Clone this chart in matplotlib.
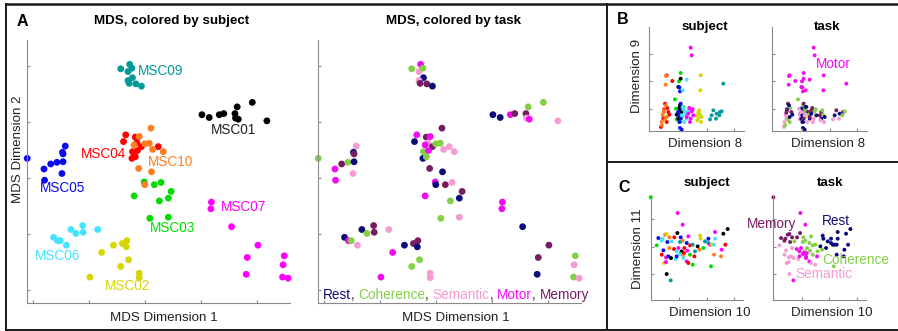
import matplotlib
matplotlib.use('Agg')
import matplotlib.pyplot as plt
from matplotlib.lines import Line2D

plt.rcParams['font.family'] = ['Liberation Sans', 'DejaVu Sans']
plt.rcParams['font.size'] = 9.6

subj_colors = {'MSC01': '#000000', 'MSC02': '#d6d600', 'MSC03': '#00dc00',
               'MSC04': '#ff0000', 'MSC05': '#0a0aee', 'MSC06': '#45e3ff',
               'MSC07': '#ff00ff', 'MSC09': '#009a9a', 'MSC10': '#ff7d1e'}
task_names = ['Rest', 'Coherence', 'Semantic', 'Motor', 'Memory']
task_colors = {'Rest': '#0c0c78', 'Coherence': '#84cf45', 'Semantic': '#f59bd2',
               'Motor': '#f20cf2', 'Memory': '#761c62'}

### Panel A - MDS dims 1 and 2
a_x = [1.56, 1.72, 1.69, 1.76, 1.77, 1.69, 1.71, 1.83, 1.93,              # MSC09
       3.01, 3.14, 3.32, 3.40, 3.64, 3.60, 3.61, 3.66, 3.91, 4.17,        # MSC01
       -0.11, 0.19, 0.20, 0.31, 0.42, 0.52, 0.53, 0.57, 0.53, 0.51,       # MSC05
       0.36, 0.43, 0.48, 0.59, 0.67, 0.76, 0.88, 0.89, 1.15,              # MSC06
       1.43, 1.59, 1.67, 1.66, 1.22, 1.70, 1.56, 1.01, 1.89, 1.89,        # MSC02
       3.18, 3.17, 3.54, 4.01, 3.82, 3.80, 4.48, 4.46, 4.45, 4.55,        # MSC07
       1.98, 2.16, 2.28, 2.46, 2.41, 2.25, 1.80, 2.08, 2.41,              # MSC03
       1.65, 1.82, 1.61, 1.85, 1.93, 2.23, 1.77, 1.86, 1.76, 1.82,        # MSC04
       2.10, 1.89, 1.80, 1.99, 2.07, 2.13, 2.32, 1.88, 2.11, 1.99]        # MSC10
a_y = [3.95, 4.03, 3.90, 3.96, 3.79, 3.74, 3.69, 3.68, 3.64,
       3.13, 3.08, 3.13, 3.15, 3.27, 3.15, 3.07, 3.05, 3.35, 3.02,
       2.35, 2.16, 1.96, 2.25, 2.28, 2.46, 2.43, 2.57, 2.29, 2.08,
       0.94, 0.88, 0.88, 0.80, 1.08, 1.01, 1.15, 1.03, 1.08,
       0.80, 0.83, 0.88, 0.77, 0.67, 0.54, 0.42, 0.23, 0.30, 0.22,
       1.57, 1.45, 1.13, 0.80, 0.58, 0.28, 0.61, 0.45, 0.23, 0.21,
       1.93, 1.88, 1.92, 1.76, 1.64, 1.59, 1.68, 1.28, 1.30,
       2.77, 2.73, 2.65, 2.63, 2.56, 2.56, 2.47, 2.49, 2.35, 2.38,
       2.89, 2.74, 2.59, 2.61, 2.62, 2.51, 2.47, 2.17, 2.11, 1.88]
a_subj = (['MSC09'] * 9 + ['MSC01'] * 10 + ['MSC05'] * 10 + ['MSC06'] * 9 + ['MSC02'] * 10
          + ['MSC07'] * 10 + ['MSC03'] * 9 + ['MSC04'] * 10 + ['MSC10'] * 10)
a_task = ['Coherence', 'Motor', 'Semantic', 'Coherence', 'Rest', 'Semantic', 'Memory', 'Memory', 'Rest',
          'Rest', 'Rest', 'Motor', 'Memory', 'Coherence', 'Memory', 'Semantic', 'Motor', 'Coherence', 'Semantic',
          'Coherence', 'Motor', 'Motor', 'Memory', 'Coherence', 'Rest', 'Memory', 'Semantic', 'Rest', 'Semantic',
          'Rest', 'Motor', 'Coherence', 'Semantic', 'Rest', 'Coherence', 'Memory', 'Memory', 'Semantic',
          'Rest', 'Memory', 'Memory', 'Rest', 'Motor', 'Coherence', 'Coherence', 'Motor', 'Semantic', 'Semantic',
          'Motor', 'Motor', 'Rest', 'Memory', 'Memory', 'Rest', 'Coherence', 'Semantic', 'Coherence', 'Semantic',
          'Motor', 'Memory', 'Semantic', 'Memory', 'Rest', 'Coherence', 'Motor', 'Coherence', 'Semantic',
          'Motor', 'Memory', 'Rest', 'Semantic', 'Memory', 'Semantic', 'Coherence', 'Motor', 'Rest', 'Coherence',
          'Memory', 'Motor', 'Motor', 'Coherence', 'Coherence', 'Semantic', 'Semantic', 'Memory', 'Rest', 'Rest']

# subject label positions (data units)
a_lab = ['MSC09', 'MSC01', 'MSC04', 'MSC10', 'MSC05', 'MSC07', 'MSC03', 'MSC06', 'MSC02']
a_lab_x = [1.875, 3.17, 1.65, 2.04, 0.12, 3.35, 2.08, 0.03, 1.28]
a_lab_y = [3.91, 2.86, 2.43, 2.29, 1.82, 1.48, 1.10, 0.61, 0.07]

### Panel B - dims 8 and 9
b_x = [-37, -20, -42, -35, -32, -29, -47, -37, -54, -45,     # MSC04
       -39, -40, -45, -49, -42, -52, -37, -47, -51, -39,     # MSC10
       5, 0, -12, -5, -7, 3, 1, 8, -9, 13,                   # MSC03
       5, -2, 3, 8, 1, 5, -2, 11, 3, -7,                     # MSC01
       3, 1, 5, 1, 1, 3, 8, -2, 5, 9,                        # MSC05
       23, 11, 13, 18, 23, 8, 28, 15, 21, 11,                # MSC06
       65, 64, 58, 63, 58, 66, 53, 61, 68, 55,               # MSC02
       133, 103, 93, 113, 123, 111, 121, 98, 128,            # MSC09
       35, 38, 31, 38, 43, 33, 23, 41, 28, 35]               # MSC07
b_y = [100, 83, 15, 2, -10, -18, -30, -40, -55, -2,
       98, 72, -5, -20, -32, -40, -25, -12, -50, 10,
       107, 82, 28, -15, -32, -40, -8, -25, 0, 5,
       90, 65, -5, -10, 2, -20, -30, -2, 10, -18,
       52, 64, 15, -20, -40, -58, -63, -10, -30, 0,
       87, 55, -2, -10, -30, -20, -5, -40, -18, 5,
       100, 55, -10, -18, -30, -40, -20, -5, -25, -35,
       75, -5, -32, -15, -10, -30, -20, -20, -8,
       183, 160, 2, -8, -20, -40, -25, -2, -15, -30]
b_subj = (['MSC04'] * 10 + ['MSC10'] * 10 + ['MSC03'] * 10 + ['MSC01'] * 10 + ['MSC05'] * 10
          + ['MSC06'] * 10 + ['MSC02'] * 10 + ['MSC09'] * 9 + ['MSC07'] * 10)
b_task = ['Motor', 'Motor', 'Memory', 'Coherence', 'Memory', 'Rest', 'Semantic', 'Coherence', 'Semantic', 'Rest',
          'Motor', 'Motor', 'Memory', 'Semantic', 'Coherence', 'Semantic', 'Rest', 'Memory', 'Coherence', 'Rest',
          'Motor', 'Motor', 'Coherence', 'Memory', 'Semantic', 'Rest', 'Memory', 'Coherence', 'Semantic', 'Rest',
          'Motor', 'Motor', 'Memory', 'Coherence', 'Rest', 'Semantic', 'Rest', 'Memory', 'Coherence', 'Semantic',
          'Motor', 'Motor', 'Memory', 'Rest', 'Rest', 'Rest', 'Rest', 'Semantic', 'Memory', 'Coherence',
          'Motor', 'Motor', 'Coherence', 'Memory', 'Rest', 'Semantic', 'Memory', 'Semantic', 'Coherence', 'Rest',
          'Motor', 'Motor', 'Memory', 'Coherence', 'Rest', 'Semantic', 'Memory', 'Coherence', 'Rest', 'Semantic',
          'Motor', 'Memory', 'Semantic', 'Rest', 'Memory', 'Semantic', 'Coherence', 'Rest', 'Coherence',
          'Motor', 'Motor', 'Memory', 'Coherence', 'Rest', 'Semantic', 'Memory', 'Coherence', 'Rest', 'Semantic']

### Panel C - dims 10 and 11
c_x = [-85, -4, 11, -5, 146, 133, 108, -42, -37, -62, -14, -49, -29, 5, 28, 63, 65, 88, 108, -67,
       -52, -35, -22, 3, 11, 23, 33, 41, 56, 88, 93, 98, 105, 73, 128, 139, -47, -29, -15, -2,
       -7, 8, 6, 15, 16, 25, -52, -39, -32, -24, -10, -7, 3, 13, 33, 46, 105, 126, -45, -39,
       13, 23, 28, 41, 96, -37, -25, 48, 61, 78]
c_y = [230, 183, 148, 123, 135, 121, 126, 118, 120, 108, 110, 106, 110, 110, 113, 115, 106, 106, 106, 86,
       100, 96, 98, 96, 100, 93, 86, 88, 83, 93, 88, 88, 88, 78, 73, 88, 71, 78, 75, 78,
       68, 68, 63, 63, 78, 70, 58, 50, 53, 48, 45, 53, 60, 53, 58, 53, 58, 53, 33, 36,
       48, 38, 33, 28, 23, 0, -19, 68, 73, 98]
c_subj = ['MSC03', 'MSC07', 'MSC07', 'MSC01', 'MSC01', 'MSC01', 'MSC07', 'MSC10', 'MSC02', 'MSC05',
          'MSC04', 'MSC06', 'MSC10', 'MSC05', 'MSC07', 'MSC02', 'MSC02', 'MSC05', 'MSC06', 'MSC03',
          'MSC06', 'MSC05', 'MSC06', 'MSC09', 'MSC10', 'MSC05', 'MSC04', 'MSC09', 'MSC01', 'MSC09',
          'MSC07', 'MSC02', 'MSC06', 'MSC03', 'MSC07', 'MSC04', 'MSC05', 'MSC10', 'MSC04', 'MSC07',
          'MSC06', 'MSC01', 'MSC01', 'MSC04', 'MSC04', 'MSC07', 'MSC04', 'MSC07', 'MSC05', 'MSC01',
          'MSC06', 'MSC05', 'MSC06', 'MSC10', 'MSC03', 'MSC04', 'MSC10', 'MSC10', 'MSC02', 'MSC07',
          'MSC06', 'MSC07', 'MSC04', 'MSC03', 'MSC03', 'MSC01', 'MSC09', 'MSC09', 'MSC10', 'MSC09']
c_task = ['Memory', 'Motor', 'Motor', 'Memory', 'Rest', 'Rest', 'Rest', 'Memory', 'Memory', 'Memory',
          'Memory', 'Memory', 'Memory', 'Coherence', 'Coherence', 'Rest', 'Rest', 'Rest', 'Rest', 'Semantic',
          'Memory', 'Memory', 'Coherence', 'Coherence', 'Coherence', 'Coherence', 'Coherence', 'Coherence', 'Rest', 'Rest',
          'Rest', 'Rest', 'Rest', 'Rest', 'Rest', 'Rest', 'Semantic', 'Semantic', 'Motor', 'Motor',
          'Motor', 'Coherence', 'Motor', 'Motor', 'Coherence', 'Coherence', 'Semantic', 'Semantic', 'Semantic', 'Semantic',
          'Semantic', 'Motor', 'Motor', 'Motor', 'Coherence', 'Motor', 'Rest', 'Rest', 'Semantic', 'Semantic',
          'Motor', 'Motor', 'Semantic', 'Semantic', 'Coherence', 'Semantic', 'Motor', 'Coherence', 'Coherence', 'Rest']

W, H = 898.0, 331.0
fig = plt.figure(figsize=(8.98, 3.31), dpi=100)


def add_ax(left, top, right, bottom):
    return fig.add_axes([left / W, 1 - bottom / H, (right - left) / W, (bottom - top) / H])


def style(ax, xlim, ylim, xt, yt):
    ax.set_xlim(xlim)
    ax.set_ylim(ylim)
    for s in ['top', 'right']:
        ax.spines[s].set_visible(False)
    for s in ['left', 'bottom']:
        ax.spines[s].set_color('#8a8a8a')
        ax.spines[s].set_linewidth(0.8)
    ax.set_xticks(xt)
    ax.set_yticks(yt)
    ax.tick_params(direction='in', length=2.5, width=0.8, color='#8a8a8a',
                   labelbottom=False, labelleft=False)
    ax.patch.set_alpha(0)


def ftext(x, y, s, **kw):
    kw.setdefault('color', '#222222')
    return fig.text(x / W, 1 - y / H, s, **kw)


# --- A
axA1 = add_ax(26.7, 40, 290, 303.3)
axA2 = add_ax(317.7, 40, 581, 303.3)
for ax in [axA1, axA2]:
    style(ax, (-0.119, 4.583), (-0.238, 4.464), [0, 1, 2, 3, 4], [0, 1, 2, 3, 4])
axA1.scatter(a_x, a_y, s=24, c=[subj_colors[s] for s in a_subj], linewidths=0, clip_on=False)
axA2.scatter(a_x, a_y, s=24, c=[task_colors[t] for t in a_task], linewidths=0, clip_on=False)
for lab, lx, ly in zip(a_lab, a_lab_x, a_lab_y):
    ha = 'right' if lab == 'MSC04' else 'left'
    col = '#222222' if lab == 'MSC01' else subj_colors[lab]
    axA1.text(lx, ly, lab, color=col, ha=ha, va='center', fontsize=9.8)

# colored task legend under panel A task
t = ftext(322.7, 295, task_names[0], color=task_colors[task_names[0]], va='center', ha='left', fontsize=9.8)
for name in task_names[1:]:
    t = axA2.annotate(',', xy=(1, 0), xycoords=t, va='bottom', ha='left', color='#333333', fontsize=9.8)
    t = axA2.annotate(name, xy=(1, 0), xycoords=t, xytext=(2.7, 0), textcoords='offset points',
                      va='bottom', ha='left', color=task_colors[name], fontsize=9.8)

ftext(172, 21, 'MDS, colored by subject', ha='center', va='center', weight='bold', color='k')
ftext(453.8, 21, 'MDS, colored by task', ha='center', va='center', weight='bold', color='k')
ftext(17, 22, 'A', ha='left', va='center', weight='bold', fontsize=11.5, color='k')
ftext(18.3, 149, 'MDS Dimension 2', rotation=90, ha='center', va='center')
ftext(164, 318, 'MDS Dimension 1', ha='center', va='center')
ftext(455.8, 318, 'MDS Dimension 1', ha='center', va='center')

# --- B
axB1 = add_ax(649, 27, 744, 131)
axB2 = add_ax(772, 27, 867, 131)
for ax in [axB1, axB2]:
    style(ax, (-90, 195), (-67, 245), [0, 82.5, 165], [0, 82.5, 165])
axB1.scatter(b_x, b_y, s=8, c=[subj_colors[s] for s in b_subj], linewidths=0, clip_on=False)
axB2.scatter(b_x, b_y, s=8, c=[task_colors[t] for t in b_task], linewidths=0, clip_on=False)
axB2.text(43, 135, 'Motor', color=task_colors['Motor'], ha='left', va='center', fontsize=9.8)
ftext(704.5, 27, 'subject', ha='center', va='center', weight='bold', color='k')
ftext(827.5, 27, 'task', ha='center', va='center', weight='bold', color='k')
ftext(617, 20, 'B', ha='left', va='center', weight='bold', fontsize=11.5, color='k')
ftext(637.3, 76, 'Dimension 9', rotation=90, ha='center', va='center')
ftext(705, 144, 'Dimension 8', ha='center', va='center')
ftext(828, 144, 'Dimension 8', ha='center', va='center')

# --- C
axC1 = add_ax(650.7, 194.7, 743, 299.7)
axC2 = add_ax(773.4, 194.7, 865.7, 299.7)
for ax in [axC1, axC2]:
    style(ax, (-85, 192), (-77, 238), [0, 82.5, 165], [0, 82.5, 165])
axC1.scatter(c_x, c_y, s=8, c=[subj_colors[s] for s in c_subj], linewidths=0, clip_on=False)
axC2.scatter(c_x, c_y, s=8, c=[task_colors[t] for t in c_task], linewidths=0, clip_on=False)
axC2.text(-15, 151, 'Memory', color=task_colors['Memory'], ha='right', va='center', fontsize=9.8)
axC2.text(60, 158, 'Rest', color=task_colors['Rest'], ha='left', va='center', fontsize=9.8)
axC2.text(63, 43, 'Coherence', color=task_colors['Coherence'], ha='left', va='center', fontsize=9.8)
axC2.text(-18, 1, 'Semantic', color=task_colors['Semantic'], ha='left', va='center', fontsize=9.8)
ftext(707.3, 183, 'subject', ha='center', va='center', weight='bold', color='k')
ftext(830, 183, 'task', ha='center', va='center', weight='bold', color='k')
ftext(618, 187, 'C', ha='left', va='center', weight='bold', fontsize=11.5, color='k')
ftext(638.3, 249, 'Dimension 11', rotation=90, ha='center', va='center')
ftext(709.3, 312.7, 'Dimension 10', ha='center', va='center')
ftext(831.7, 312.7, 'Dimension 10', ha='center', va='center')

# panel frames
def fline(x0, y0, x1, y1, lw=1.4):
    fig.add_artist(Line2D([x0 / W, x1 / W], [1 - y0 / H, 1 - y1 / H], color='#1a1a1a', lw=lw))

fline(6, 4, 898, 4, lw=1.8)
fline(6, 329.5, 898, 329.5)
fline(6, 4, 6, 329.5)
fline(607, 4, 607, 329.5)
fline(607, 161.5, 898, 161.5)

fig.savefig('out.png', dpi=100)
